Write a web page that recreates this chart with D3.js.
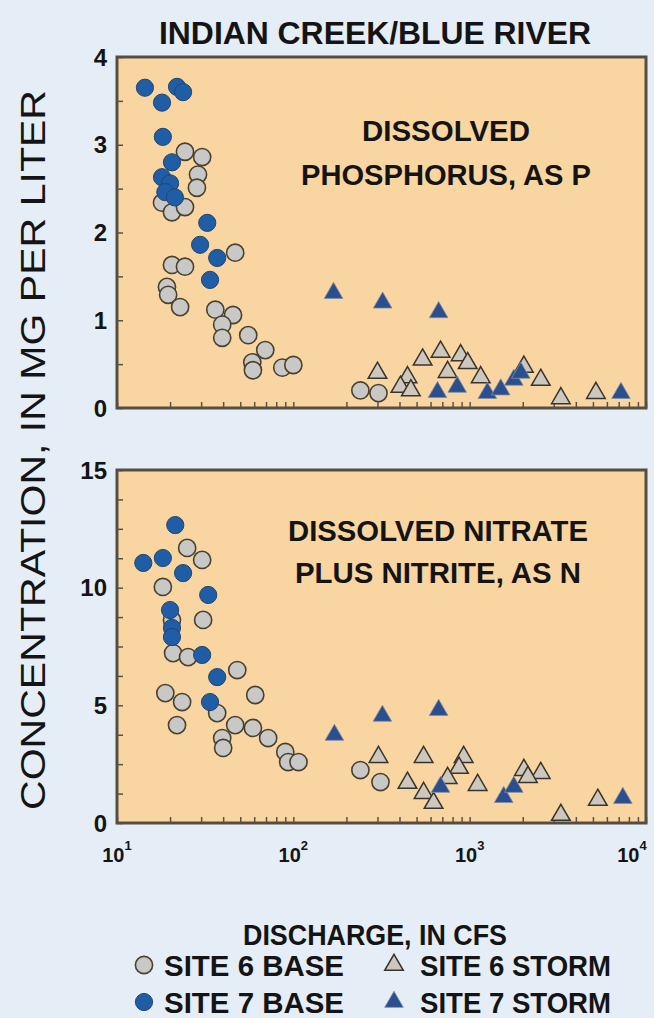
<!DOCTYPE html>
<html>
<head>
<meta charset="utf-8">
<script src="https://cdn.jsdelivr.net/npm/d3@7"></script>
<style>
  html, body { margin: 0; padding: 0; background: #e5eef7; }
  svg { display: block; }
  text { font-family: "Liberation Sans Narrow", "Arial Narrow", "Liberation Sans", Arial, sans-serif; fill: #141414; }
</style>
</head>
<body>
<svg id="chart" width="654" height="1018"></svg>
<script>
// Discharge (cfs) and concentration (mg/L) pairs, one array per site and sampling type.
const phosSite6Base = [
  [24.3, 2.92], [30.4, 2.86], [28.8, 2.66], [28.4, 2.51], [18.0, 2.34], [20.5, 2.23],
  [24.3, 2.29], [46.8, 1.77], [20.5, 1.63], [24.3, 1.61], [19.2, 1.38], [19.5, 1.29],
  [22.8, 1.15], [36.1, 1.12], [45.5, 1.06], [39.5, 0.95], [39.5, 0.80], [55.5, 0.83],
  [69.3, 0.66], [58.5, 0.52], [59.0, 0.43], [86.6, 0.46], [100, 0.49],
  [240, 0.20], [304, 0.17]
];
const phosSite7Base = [
  [14.4, 3.65], [18.0, 3.48], [21.9, 3.66], [23.7, 3.60], [18.2, 3.09],
  [20.5, 2.80], [18.0, 2.63], [20.0, 2.56], [18.8, 2.46], [21.3, 2.40],
  [32.5, 2.11], [29.6, 1.86], [37.0, 1.71], [33.7, 1.46]
];
const phosSite6Storm = [
  [541, 0.55], [684, 0.64], [889, 0.60], [975, 0.51], [300, 0.40], [444, 0.35],
  [750, 0.41], [1155, 0.35], [2030, 0.47], [2530, 0.32], [3290, 0.11], [5200, 0.17],
  [405, 0.24], [464, 0.20]
];
const phosSite7Storm = [
  [169, 1.31], [321, 1.20], [667, 1.09],
  [657, 0.18], [850, 0.24], [1260, 0.17], [1500, 0.21], [1780, 0.32], [1950, 0.40],
  [7210, 0.17]
];

const nitSite6Base = [
  [25.0, 11.69], [30.4, 11.18], [18.2, 10.03], [30.8, 8.63], [20.5, 8.63], [20.8, 7.22],
  [25.3, 7.05], [48.1, 6.50], [18.8, 5.52], [23.4, 5.14], [60.8, 5.44], [37.0, 4.67],
  [21.9, 4.16], [46.8, 4.16], [59.0, 4.04], [72.0, 3.61], [39.5, 3.61], [40.0, 3.19],
  [90.0, 3.02], [93.5, 2.59], [107, 2.59], [240, 2.25], [312, 1.74]
];
const nitSite7Base = [
  [21.4, 12.66], [14.1, 11.05], [18.2, 11.26], [23.7, 10.62], [32.9, 9.69],
  [20.0, 9.05], [20.5, 8.29], [20.5, 7.90], [30.4, 7.14], [37.0, 6.20], [33.7, 5.14]
];
const nitSite6Storm = [
  [304, 2.80], [548, 2.80], [925, 2.80], [870, 2.34], [2030, 2.25], [2530, 2.12],
  [444, 1.70], [548, 1.27], [750, 1.91], [1110, 1.61], [2140, 1.95], [3290, 0.34],
  [5330, 0.98], [624, 0.85]
];
const nitSite7Storm = [
  [171, 3.74], [320, 4.55], [667, 4.80],
  [684, 1.53], [1560, 1.10], [1780, 1.53], [7390, 1.06]
];

const dischargeDomain = [10, 10000];
const phosTicks = [0, 1, 2, 3, 4];
const nitTicks = [0, 5, 10, 15];
const decadeLabels = [1, 2, 3, 4];

const legendItems = [
  { label: "SITE 6 BASE", shape: "circle", site: 6 },
  { label: "SITE 6 STORM", shape: "triangle", site: 6 },
  { label: "SITE 7 BASE", shape: "circle", site: 7 },
  { label: "SITE 7 STORM", shape: "triangle", site: 7 }
];

const svg = d3.select("#chart");

const left = 117, right = 646;
const x = d3.scaleLog().domain(dischargeDomain).range([left, right]);

const panels = [
  {
    yDomain: [0, 4], range: [408, 57], step: 0.5, labels: phosTicks,
    title: ["DISSOLVED", "PHOSPHORUS, AS P"], titleX: 446, titleY: [141, 185],
    titleLen: [168, 290],
    series: [[phosSite6Base, "circle", 6], [phosSite7Base, "circle", 7],
             [phosSite6Storm, "triangle", 6], [phosSite7Storm, "triangle", 7]]
  },
  {
    yDomain: [0, 15], range: [823, 470], step: 1.25, labels: nitTicks,
    title: ["DISSOLVED NITRATE", "PLUS NITRITE, AS N"], titleX: 438, titleY: [541, 583],
    titleLen: [300, 286],
    series: [[nitSite6Base, "circle", 6], [nitSite7Base, "circle", 7],
             [nitSite6Storm, "triangle", 6], [nitSite7Storm, "triangle", 7]]
  }
];

const styles = {
  "circle6":   { fill: "#c8c8c6", stroke: "#4a4030", sw: 1.6 },
  "circle7":   { fill: "#1f5da6", stroke: "#23456f", sw: 1.0 },
  "triangle6": { fill: "#cdc7bd", stroke: "#38342e", sw: 1.5 },
  "triangle7": { fill: "#2b4f8e", stroke: "#7f8ea6", sw: 0.8 }
};
const circleSym = d3.symbol().type(d3.symbolCircle).size(Math.PI * 8.6 * 8.6);
const triSym = d3.symbol().type(d3.symbolTriangle).size(150);

function drawMark(g, shape, site, px, py) {
  const s = styles[shape + site];
  g.append("path")
    .attr("d", shape === "circle" ? circleSym() : triSym())
    .attr("transform", `translate(${px},${py})`)
    .attr("fill", s.fill).attr("stroke", s.stroke).attr("stroke-width", s.sw);
}

// log ticks: 1..9 times each decade
const logTicks = [];
for (let e = 1; e <= 4; e++) {
  for (let m = 1; m <= 9; m++) {
    const v = m * Math.pow(10, e);
    if (v <= 10000) logTicks.push(v);
  }
}

panels.forEach((p) => {
  const y = d3.scaleLinear().domain(p.yDomain).range(p.range);
  const g = svg.append("g");

  g.append("rect")
    .attr("x", left).attr("y", p.range[1])
    .attr("width", right - left).attr("height", p.range[0] - p.range[1])
    .attr("fill", "#f9d6a1");

  // concentration ticks pointing into the plot
  const yTickVals = d3.range(p.yDomain[0], p.yDomain[1] + 1e-9, p.step);
  const yAxis = d3.axisLeft(y).tickValues(yTickVals).tickSizeInner(-6).tickSizeOuter(0).tickFormat("");
  g.append("g").attr("transform", `translate(${left},0)`).call(yAxis)
    .call(a => a.select(".domain").remove())
    .call(a => a.selectAll("line").attr("stroke", "#5a5246").attr("stroke-width", 1.5));

  // discharge ticks along the bottom edge
  const xAxis = d3.axisBottom(x).tickValues(logTicks).tickSizeInner(-6).tickSizeOuter(0).tickFormat("");
  g.append("g").attr("transform", `translate(0,${p.range[0]})`).call(xAxis)
    .call(a => a.select(".domain").remove())
    .call(a => a.selectAll("line").attr("stroke", "#5a5246").attr("stroke-width", 1.5));

  g.selectAll(".ylab").data(p.labels).enter().append("text")
    .attr("x", 107).attr("y", d => y(d) + 8.5)
    .attr("text-anchor", "end")
    .attr("font-size", 24).attr("font-weight", "bold")
    .text(d => d);

  p.series.forEach(([data, shape, site]) => {
    data.forEach(d => drawMark(g, shape, site, x(d[0]), y(d[1])));
  });

  g.append("rect")
    .attr("x", left).attr("y", p.range[1])
    .attr("width", right - left).attr("height", p.range[0] - p.range[1])
    .attr("fill", "none").attr("stroke", "#564e43").attr("stroke-width", 3);

  p.title.forEach((t, k) => {
    g.append("text")
      .attr("x", p.titleX).attr("y", p.titleY[k])
      .attr("text-anchor", "middle")
      .attr("font-size", 29).attr("font-weight", "bold")
      .attr("textLength", p.titleLen[k]).attr("lengthAdjust", "spacingAndGlyphs")
      .text(t);
  });
});

// decade labels under the lower panel; the last one is nudged inside the page
decadeLabels.forEach(e => {
  const t = svg.append("text")
    .attr("x", x(Math.pow(10, e)) - (e === 4 ? 14 : 0)).attr("y", 862)
    .attr("text-anchor", "middle")
    .attr("font-size", 20).attr("font-weight", "bold");
  t.append("tspan").text("10");
  t.append("tspan").attr("dy", -12).attr("font-size", 13).text(e);
});

svg.append("text")
  .attr("x", 375).attr("y", 44)
  .attr("text-anchor", "middle")
  .attr("font-size", 31).attr("font-weight", "bold")
  .attr("textLength", 432).attr("lengthAdjust", "spacingAndGlyphs")
  .text("INDIAN CREEK/BLUE RIVER");

svg.append("text")
  .attr("transform", "translate(45,450) rotate(-90)")
  .attr("text-anchor", "middle")
  .attr("font-size", 35)
  .attr("textLength", 720).attr("lengthAdjust", "spacingAndGlyphs")
  .text("CONCENTRATION, IN MG PER LITER");

svg.append("text")
  .attr("x", 375).attr("y", 945)
  .attr("text-anchor", "middle")
  .attr("font-size", 29).attr("font-weight", "bold")
  .attr("textLength", 264).attr("lengthAdjust", "spacingAndGlyphs")
  .text("DISCHARGE, IN CFS");

// legend, two columns
legendItems.forEach((item, k) => {
  const col = k % 2, row = Math.floor(k / 2);
  const mx = col === 0 ? 144 : 394;
  const my = 965 + row * 37;
  drawMark(svg, item.shape, item.site, mx, my);
  svg.append("text")
    .attr("x", col === 0 ? 164 : 420).attr("y", my + 11)
    .attr("font-size", 29).attr("font-weight", "bold")
    .attr("textLength", col === 0 ? 180 : 191).attr("lengthAdjust", "spacingAndGlyphs")
    .text(item.label);
});
</script>
</body>
</html>
